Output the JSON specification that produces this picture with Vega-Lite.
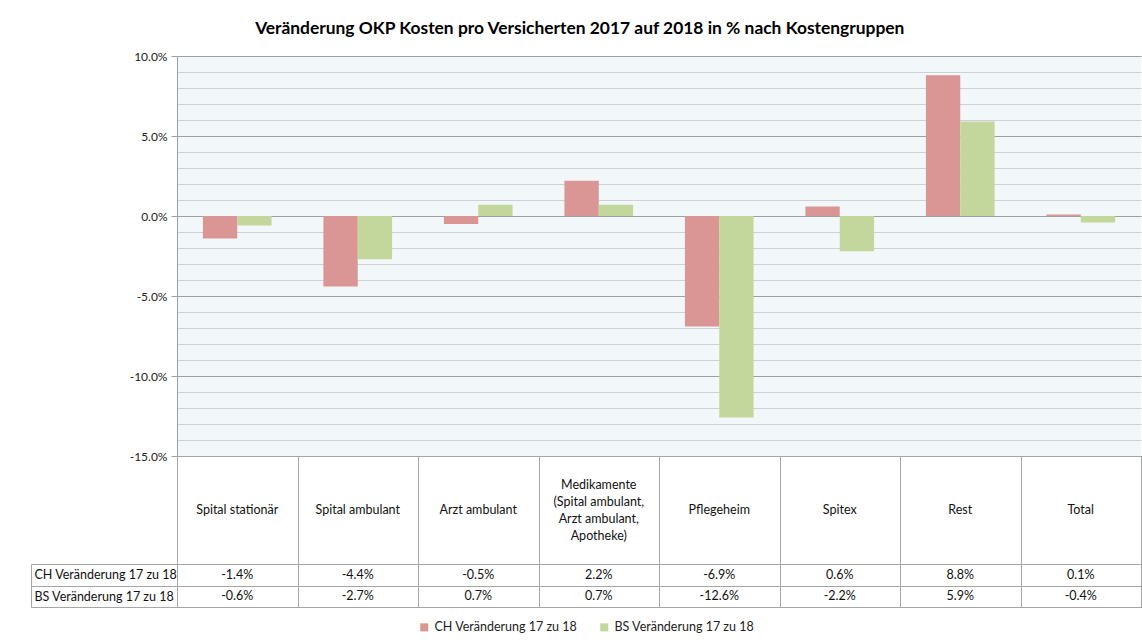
{
  "$schema": "https://vega.github.io/schema/vega-lite/v6.json",
  "background": "white",
  "padding": {"left": 30, "top": 19, "right": 2, "bottom": 0},
  "title": {"text": "Veränderung OKP Kosten pro Versicherten 2017 auf 2018 in % nach Kostengruppen", "fontSize": 17.4, "fontWeight": "bold", "font": "Lato", "color": "#000000", "anchor": "middle", "offset": 13, "dx": -6},
  "datasets": {
    "costs": [
      {"cat": "Spital stationär", "CH Veränderung 17 zu 18": -0.014, "BS Veränderung 17 zu 18": -0.006},
      {"cat": "Spital ambulant", "CH Veränderung 17 zu 18": -0.044, "BS Veränderung 17 zu 18": -0.027},
      {"cat": "Arzt ambulant", "CH Veränderung 17 zu 18": -0.005, "BS Veränderung 17 zu 18": 0.007},
      {"cat": "Medikamente\n(Spital ambulant,\nArzt ambulant,\nApotheke)", "CH Veränderung 17 zu 18": 0.022, "BS Veränderung 17 zu 18": 0.007},
      {"cat": "Pflegeheim", "CH Veränderung 17 zu 18": -0.069, "BS Veränderung 17 zu 18": -0.126},
      {"cat": "Spitex", "CH Veränderung 17 zu 18": 0.006, "BS Veränderung 17 zu 18": -0.022},
      {"cat": "Rest", "CH Veränderung 17 zu 18": 0.088, "BS Veränderung 17 zu 18": 0.059},
      {"cat": "Total", "CH Veränderung 17 zu 18": 0.001, "BS Veränderung 17 zu 18": -0.004}
    ]
  },
  "config": {
    "font": "Lato",
    "view": {"stroke": "#A6A6A6"},
    "text": {"font": "Lato", "fontSize": 12.5, "color": "#111111"},
    "axis": {"labelFont": "Lato", "labelFontSize": 12, "labelColor": "#222222"},
    "legend": {"labelFont": "Lato", "labelFontSize": 12.5, "labelColor": "#222222"},
    "locale": {"number": {"decimal": ".", "thousands": ",", "grouping": [3], "currency": ["$", ""], "minus": "-"}}
  },
  "spacing": 0,
  "bounds": "flush",
  "resolve": {"scale": {"color": "shared"}, "legend": {"color": "shared"}},
  "vconcat": [
    {
      "width": 964,
      "height": 400,
      "data": {"name": "costs"},
      "transform": [{"fold": ["CH Veränderung 17 zu 18", "BS Veränderung 17 zu 18"], "as": ["series", "value"]}],
      "view": {"stroke": null, "fill": "#F2F7FA"},
      "mark": {"type": "bar"},
      "encoding": {
        "x": {"field": "cat", "type": "nominal", "sort": ["Spital stationär", "Spital ambulant", "Arzt ambulant", "Medikamente\n(Spital ambulant,\nArzt ambulant,\nApotheke)", "Pflegeheim", "Spitex", "Rest", "Total"], "axis": null, "scale": {"paddingInner": 0.43, "paddingOuter": 0.215}},
        "xOffset": {"field": "series", "type": "nominal", "sort": ["CH Veränderung 17 zu 18", "BS Veränderung 17 zu 18"]},
        "y": {
          "field": "value", "type": "quantitative",
          "scale": {"domain": [-0.15, 0.1], "nice": false, "zero": false},
          "axis": {
            "title": null,
            "values": [-0.15, -0.14, -0.13, -0.12, -0.11, -0.1, -0.09, -0.08, -0.07, -0.06, -0.05, -0.04, -0.03, -0.02, -0.01, 0, 0.01, 0.02, 0.03, 0.04, 0.05, 0.06, 0.07, 0.08, 0.09, 0.1],
            "labelExpr": "abs(round(datum.value*100)) % 5 == 0 ? format(datum.value, '.1%') : ''",
            "grid": true,
            "gridColor": {"condition": {"test": "abs(round(datum.value*100)) % 5 == 0", "value": "#A0A0A0"}, "value": "#CDD1D5"},
            "gridOpacity": 1,
            "tickOpacity": {"condition": {"test": "abs(round(datum.value*100)) % 5 == 0", "value": 1}, "value": 0},
            "tickSize": 6,
            "tickColor": "#A0A0A0",
            "domainColor": "#A0A0A0",
            "labelPadding": 4
          }
        },
        "color": {
          "field": "series", "type": "nominal",
          "scale": {"domain": ["CH Veränderung 17 zu 18", "BS Veränderung 17 zu 18"], "range": ["#D99694", "#C3D69B"]},
          "legend": {"orient": "none", "legendX": 241, "legendY": 565, "direction": "horizontal", "title": null, "symbolType": "square", "symbolSize": 64, "symbolStrokeWidth": 0, "columnPadding": 20, "labelLimit": 300}
        }
      }
    },
    {
      "width": 964,
      "height": 108,
      "data": {"name": "costs"},
      "encoding": {
        "x": {"field": "cat", "type": "nominal", "sort": ["Spital stationär", "Spital ambulant", "Arzt ambulant", "Medikamente\n(Spital ambulant,\nArzt ambulant,\nApotheke)", "Pflegeheim", "Spitex", "Rest", "Total"], "scale": {"paddingInner": 0, "paddingOuter": 0},
              "axis": {"orient": "top", "title": null, "labels": false, "ticks": false, "domain": false, "grid": true, "tickBand": "extent", "gridColor": "#A6A6A6", "gridOpacity": 1}},
        "text": {"field": "cat", "type": "nominal"}
      },
      "layer": [
        {
          "transform": [{"filter": "indexof(datum.cat, 'Medikamente') < 0"}],
          "mark": {"type": "text", "baseline": "middle"}
        },
        {
          "transform": [{"filter": "indexof(datum.cat, 'Medikamente') >= 0"}],
          "mark": {"type": "text", "lineBreak": "\n", "lineHeight": 17, "baseline": "middle", "dy": -25.5}
        }
      ]
    },
    {
      "width": 964,
      "height": 43,
      "data": {"name": "costs"},
      "transform": [{"fold": ["CH Veränderung 17 zu 18", "BS Veränderung 17 zu 18"], "as": ["series", "value"]}],
      "encoding": {
        "x": {"field": "cat", "type": "nominal", "sort": ["Spital stationär", "Spital ambulant", "Arzt ambulant", "Medikamente\n(Spital ambulant,\nArzt ambulant,\nApotheke)", "Pflegeheim", "Spitex", "Rest", "Total"], "scale": {"paddingInner": 0, "paddingOuter": 0},
              "axis": {"orient": "top", "title": null, "labels": false, "ticks": false, "domain": false, "grid": true, "tickBand": "extent", "gridColor": "#A6A6A6", "gridOpacity": 1}},
        "text": {"field": "value", "type": "quantitative", "format": ".1%"}
      },
      "layer": [
        {
          "mark": {"type": "text", "baseline": "middle"},
          "encoding": {
            "y": {"field": "series", "type": "nominal", "sort": ["CH Veränderung 17 zu 18", "BS Veränderung 17 zu 18"], "scale": {"paddingInner": 0, "paddingOuter": 0},
                  "axis": {"title": null, "orient": "left", "labelAlign": "left", "labelPadding": -3, "labelLimit": 300, "labelColor": "#111111", "labelFontSize": 12.5, "ticks": true, "tickSize": 146, "tickBand": "extent", "tickColor": "#A6A6A6", "domain": false, "grid": true, "gridColor": "#A6A6A6", "gridOpacity": 1}}
          }
        },
        {
          "mark": {"type": "text", "opacity": 0},
          "encoding": {
            "y": {"field": "series", "type": "nominal", "sort": ["CH Veränderung 17 zu 18", "BS Veränderung 17 zu 18"],
                  "axis": {"title": null, "orient": "left", "offset": 146, "labels": false, "ticks": false, "grid": false, "domain": true, "domainColor": "#A6A6A6"}}
          }
        }
      ],
      "resolve": {"axis": {"y": "independent"}}
    }
  ]
}
